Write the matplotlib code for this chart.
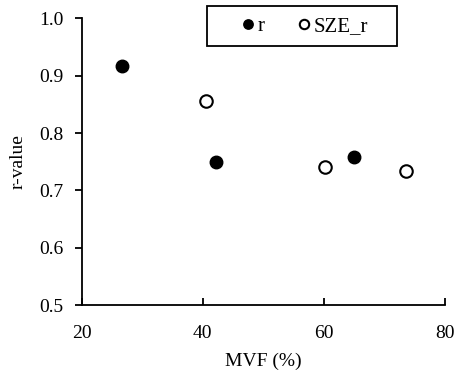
import matplotlib
matplotlib.use("Agg")
import matplotlib.pyplot as plt
from matplotlib.patches import Rectangle

# MVF (%) and r-values
r_mvf = [26.7, 42.2, 65.0]
r_val = [0.917, 0.750, 0.758]
sze_mvf = [40.5, 60.1, 73.5]
sze_val = [0.856, 0.741, 0.734]

plt.rcParams['font.family'] = ['Liberation Serif', 'DejaVu Serif']

fig = plt.figure(figsize=(4.56, 3.73), dpi=100)
ax = fig.add_axes([0.179, 0.182, 0.797, 0.769])

ax.plot(r_mvf, r_val, 'o', color='black', markersize=9, label='r', clip_on=False)
ax.plot(sze_mvf, sze_val, 'o', markerfacecolor='white', markeredgecolor='black',
        markeredgewidth=1.5, markersize=9, label='SZE_r', clip_on=False)

ax.set_xlim(20, 80)
ax.set_ylim(0.5, 1.0)
ax.set_xticks([20, 40, 60, 80])
ax.set_yticks([0.5, 0.6, 0.7, 0.8, 0.9, 1.0])
ax.set_yticklabels(['0.5', '0.6', '0.7', '0.8', '0.9', '1.0'])
ax.spines['top'].set_visible(False)
ax.spines['right'].set_visible(False)
for s in ['left', 'bottom']:
    ax.spines[s].set_linewidth(1.3)
ax.tick_params(axis='x', direction='in', length=5, width=1.3, labelsize=14, pad=14)
ax.tick_params(axis='y', direction='out', length=5, width=1.3, labelsize=14, pad=8)
ax.set_xlabel('MVF (%)', fontsize=14, labelpad=8)
ax.set_ylabel('r-value', fontsize=14, labelpad=9)

# legend frame drawn separately (Excel-style wide box)
ax.add_patch(Rectangle((0.345, 0.903), 0.523, 0.140, transform=ax.transAxes,
                       fill=False, edgecolor='black', linewidth=1.3, clip_on=False))
leg = ax.legend(loc='center', bbox_to_anchor=(0.614, 0.973), ncol=2, fontsize=15,
                frameon=False, markerscale=0.75,
                handlelength=0.6, handletextpad=0.15, columnspacing=1.6,
                borderpad=0, borderaxespad=0)

fig.savefig('out.png', dpi=100)
